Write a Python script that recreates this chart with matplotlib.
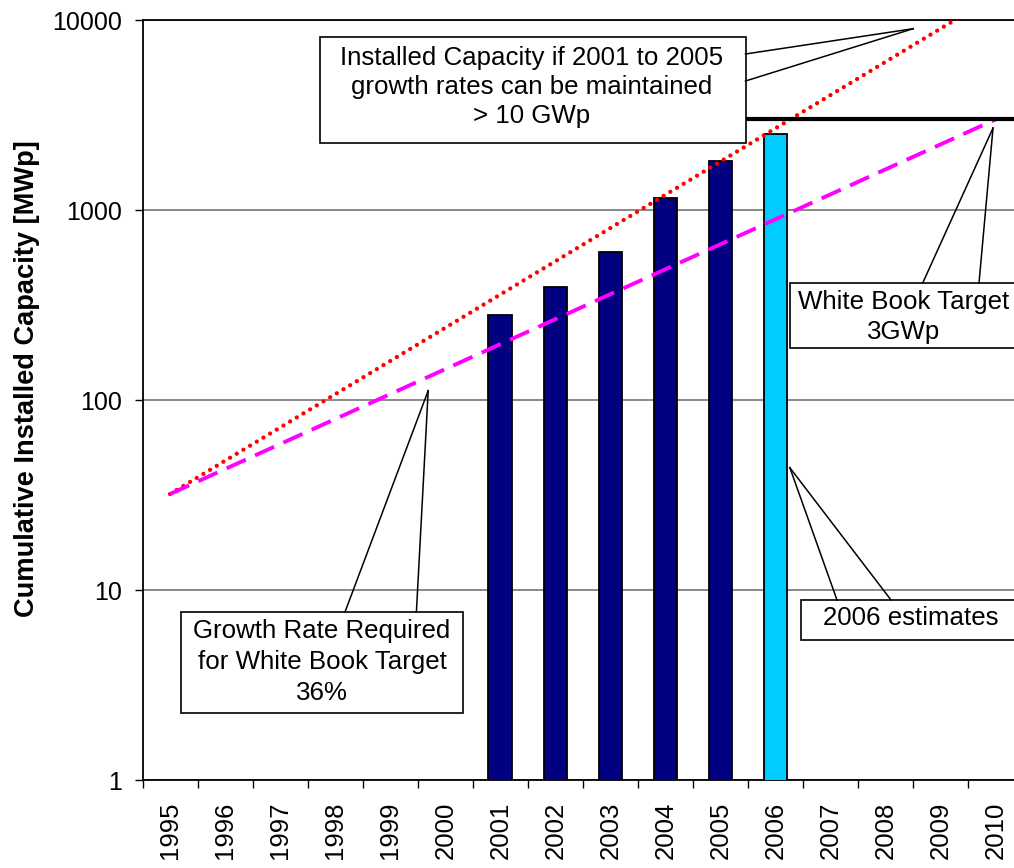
import numpy as np
import matplotlib.pyplot as plt
from matplotlib.lines import Line2D
from matplotlib.patches import Rectangle

plt.rcParams['font.family'] = ['Liberation Sans', 'DejaVu Sans']

# data
years = list(range(1995, 2011))
bar_years = [2001, 2002, 2003, 2004, 2005, 2006]
bar_values = [280, 395, 600, 1150, 1800, 2500]
bar_colors = ['#000080', '#000080', '#000080', '#000080', '#000080', '#00CCFF']

trend_years = [1995, 2010]
trend_2001_2005 = [32, 13500]     # growth 2001-2005 kept up
trend_white_book = [32, 3000]     # 36 % growth to the target
target_years = [2003, 2010.5]
target_values = [3000, 3000]

W, H = 1014, 868
fig = plt.figure(figsize=(W / 100, H / 100), dpi=100)
ax = fig.add_axes([142.5 / W, 88 / H, 880.8 / W, 760 / H])

def xi(y):
    return np.array(y) - 1995

ax.set_yscale('log')
ax.set_xlim(-0.5, 15.5)
ax.set_ylim(1, 10000)

# bars
ax.bar(xi(bar_years), bar_values, width=0.43, color=bar_colors,
       edgecolor='black', linewidth=1.3, zorder=3)

# trend lines
ax.plot(xi(trend_years), trend_2001_2005, color='red', lw=3.1,
        linestyle=(0, (0.01, 1.8)), dash_capstyle='round', zorder=4)
ax.plot(xi(trend_years), trend_white_book, color='#FF00FF', lw=2.8,
        linestyle=(0, (5.4, 2.6)), zorder=4)
ax.plot(xi(target_years), target_values, color='black', lw=3, zorder=4)

# axes styling
ax.set_yticks([1, 10, 100, 1000, 10000])
ax.set_yticklabels(['1', '10', '100', '1000', '10000'])
ax.yaxis.set_minor_locator(plt.NullLocator())
ax.tick_params(axis='y', which='major', labelsize=18, length=5.8, pad=9,
               width=1, color='black')
ax.yaxis.grid(True, color='#808080', lw=1.3)
ax.set_axisbelow(True)

ax.set_xticks(np.arange(-0.5, 16, 1))
ax.set_xticklabels([])
ax.set_xticks(np.arange(16), minor=True)
ax.set_xticklabels([str(y) for y in years], minor=True, rotation=90)
ax.tick_params(axis='x', which='major', length=5.8, width=1, direction='out')
ax.tick_params(axis='x', which='minor', length=0, labelsize=18.5, pad=15.5)
for lab in ax.get_xticklabels(minor=True):
    lab.set_verticalalignment('top')

ax.spines['right'].set_visible(False)
for s in ['left', 'bottom', 'top']:
    ax.spines[s].set_linewidth(1.3)
    ax.spines[s].set_color('black')

fig.text(27 / W, 1 - 379 / H, 'Cumulative Installed Capacity [MWp]',
         rotation=90, fontsize=19.6, fontweight='bold', ha='center', va='center')

# callout boxes
def fp(x, y):
    return (x / W, 1 - y / H)

def tip(x, y):
    d = ax.transData.transform((x, y))
    return fig.transFigure.inverted().transform(d)

def callout(box, text, center, bases, target, ls=1.3):
    l, t, r, b = box
    fig.add_artist(Rectangle(fp(l, b), (r - l) / W, (b - t) / H,
                             transform=fig.transFigure, facecolor='white',
                             edgecolor='black', lw=1.2, zorder=5))
    tx, ty = tip(*target)
    for bx, by in bases:
        p = fp(bx, by)
        fig.add_artist(Line2D([p[0], tx], [p[1], ty], transform=fig.transFigure,
                              color='black', lw=1.1, zorder=5))
    c = fp(*center)
    fig.text(c[0], c[1], text, fontsize=18.6, ha='center', va='center',
             linespacing=ls, zorder=6)

callout((320, 37, 745.5, 143),
        'Installed Capacity if 2001 to 2005\ngrowth rates can be maintained\n> 10 GWp',
        (532, 87), [(745.5, 54), (745.5, 81)], (13.5, 9000), 1.28)
callout((790, 283, 1020, 348), 'White Book Target\n3GWp',
        (904, 317), [(922.7, 283), (979, 283)], (14.95, 2700), 1.3)
callout((181, 612, 463, 713),
        'Growth Rate Required\nfor White Book Target\n36%',
        (322, 662), [(345, 612), (416.4, 612)], (4.69, 112), 1.36)
callout((801, 600, 1022, 640), '2006 estimates',
        (911, 618), [(837, 600), (891, 600)], (11.26, 44))

fig.savefig('out.png', dpi=100)
